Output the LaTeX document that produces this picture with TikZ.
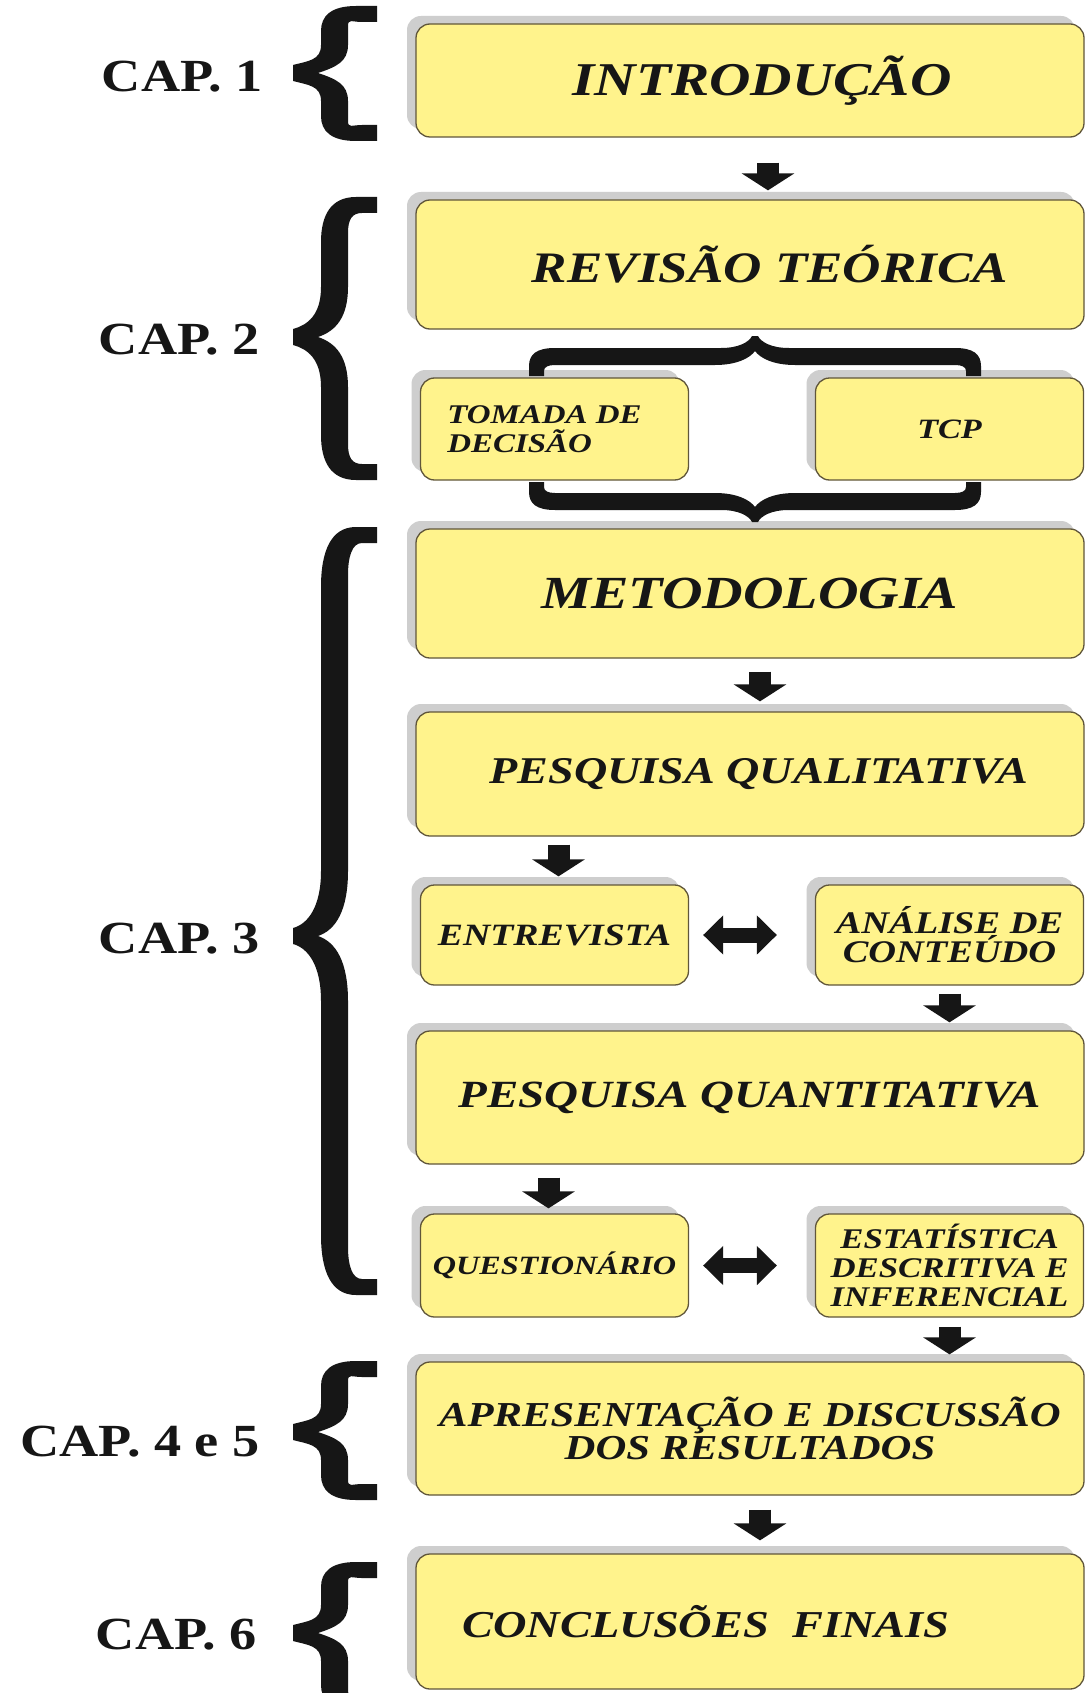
\documentclass[tikz,border=0pt]{standalone}
\usepackage{fontspec}
\setmainfont{Liberation Serif}
\usetikzlibrary{arrows.meta,shadows}

\definecolor{boxfill}{RGB}{255,243,140}
\definecolor{boxline}{RGB}{96,86,58}
\definecolor{shade}{RGB}{206,206,206}
\definecolor{ink}{RGB}{22,22,22}

\newcommand\fsz[2]{\fontsize{#1}{#2}\selectfont}
% widened lettering used throughout
\newcommand\W[1]{\scalebox{1.22}[1]{#1}}

% Tall curly brace opening to the right: top, tip, bottom, hook bend, tip bend
\newcommand\capbrace[5]{%
  \fill[ink] (377,#1) -- (356,#1)
    .. controls (331,#1) and (321,{#1+0.4*#4}) .. (321,{#1+#4})
    -- (321,{#2-#5})
    .. controls (321,{#2-0.45*#5}) and (308,{#2-12}) .. (293,{#2-8})
    -- (293,{#2+8})
    .. controls (308,{#2+12}) and (321,{#2+0.45*#5}) .. (321,{#2+#5})
    -- (321,{#3-#4})
    .. controls (321,{#3-0.4*#4}) and (331,#3) .. (356,#3)
    -- (377,#3) -- (377,{#3-16}) -- (362,{#3-16})
    .. controls (352,{#3-16}) and (348,{#3-0.5*#4}) .. (348,{#3-0.8*#4})
    -- (348,{#2+#5})
    .. controls (348,{#2+0.4*#5}) and (336,{#2+6}) .. (318,#2)
    .. controls (336,{#2-6}) and (348,{#2-0.4*#5}) .. (348,{#2-#5})
    -- (348,{#1+0.8*#4})
    .. controls (348,{#1+0.5*#4}) and (352,{#1+16}) .. (362,{#1+16})
    -- (377,{#1+16}) -- cycle;}

% Horizontal curly brace: tip x, tip y, left end, right end, direction (1: arms below tip)
\newcommand\sidebrace[5]{%
  \fill[ink] (#3,{#2+#5*40}) -- (#3,{#2+#5*30})
    .. controls (#3,{#2+#5*18}) and ({#3+8},{#2+#5*12}) .. ({#3+26},{#2+#5*12})
    -- ({#1-34},{#2+#5*12})
    .. controls ({#1-16},{#2+#5*12}) and ({#1-6},{#2+#5*6}) .. ({#1-3},#2)
    -- ({#1+3},#2)
    .. controls ({#1+6},{#2+#5*6}) and ({#1+16},{#2+#5*12}) .. ({#1+34},{#2+#5*12})
    -- ({#4-26},{#2+#5*12})
    .. controls ({#4-8},{#2+#5*12}) and (#4,{#2+#5*18}) .. (#4,{#2+#5*30})
    -- (#4,{#2+#5*40}) -- ({#4-15},{#2+#5*40}) -- ({#4-15},{#2+#5*35})
    .. controls ({#4-15},{#2+#5*31}) and ({#4-19},{#2+#5*29}) .. ({#4-26},{#2+#5*29})
    -- ({#1+40},{#2+#5*29})
    .. controls ({#1+18},{#2+#5*29}) and ({#1+5},{#2+#5*22}) .. (#1,{#2+#5*15})
    .. controls ({#1-5},{#2+#5*22}) and ({#1-18},{#2+#5*29}) .. ({#1-40},{#2+#5*29})
    -- ({#3+26},{#2+#5*29})
    .. controls ({#3+19},{#2+#5*29}) and ({#3+15},{#2+#5*31}) .. ({#3+15},{#2+#5*35})
    -- ({#3+15},{#2+#5*40}) -- cycle;}

\tikzset{
  box/.style={draw=boxline, line width=1.3pt, fill=boxfill, rounded corners=14pt,
    general shadow={fill=shade, shadow xshift=-9pt, shadow yshift=8pt},
    text=ink, align=center, inner sep=0pt},
  tf/.style 2 args={font=\bfseries\itshape\fsz{#1}{#2}},
  wide/.style={box, minimum width=668pt},
  half/.style={box, minimum width=268pt},
  caplabel/.style={anchor=east, font=\bfseries\fsz{46}{50}, text=ink, inner sep=0pt},
  fat/.style={draw=ink, line width=22pt, -{Triangle[width=52pt,length=17pt]}},
  fatboth/.style={draw=ink, line width=15pt,
    {Triangle[width=38pt,length=20pt]}-{Triangle[width=38pt,length=20pt]}},
}

\begin{document}
\begin{tikzpicture}[x=1pt, y=-1pt]
\clip (0,0) rectangle (1086,1693);
\fill[white] (0,0) rectangle (1086,1693);

% chapter labels
\node[caplabel] (c1) at (263,77) {\scalebox{1.18}[1]{CAP. 1}};
\node[caplabel] (c2) at (260,340) {\scalebox{1.18}[1]{CAP. 2}};
\node[caplabel] (c3) at (260,939) {\scalebox{1.18}[1]{CAP. 3}};
\node[caplabel] (c45) at (260,1442) {\scalebox{1.18}[1]{CAP. 4 e 5}};
\node[caplabel] (c6) at (257,1635) {\scalebox{1.18}[1]{CAP. 6}};

% chapter braces
\capbrace{6}{73}{141}{25}{28}
\capbrace{197}{337}{480}{45}{50}
\capbrace{527}{936}{1295}{60}{65}
\capbrace{1361}{1432}{1500}{25}{28}
\capbrace{1562}{1633}{1710}{25}{28}

% boxes
\node[wide, minimum height=113pt, tf={47}{52}] (intro) at (750,80.5) {\hspace*{24pt}\W{INTRODUÇÃO}};
\node[wide, minimum height=129pt, tf={43.5}{48}] (rev) at (750,264.5) {\hspace*{40pt}\W{REVISÃO TEÓRICA}};
\node[half, minimum height=102pt, tf={27}{29}, align=left] (tom) at (554.5,429) {\W{TOMADA DE}\hspace*{20pt}\\\W{DECISÃO}};
\node[half, minimum height=102pt, tf={28}{30}] (tcp) at (949.5,429) {\W{TCP}};
\node[wide, minimum height=129pt, tf={46}{50}] (met) at (750,593.5) {\W{METODOLOGIA}};
\node[wide, minimum height=124pt, tf={37.8}{42}] (pql) at (750,774) {\hspace*{18pt}\W{PESQUISA QUALITATIVA}};
\node[half, minimum height=100pt, tf={31}{33}] (ent) at (554.5,935) {\W{ENTREVISTA}};
\node[half, minimum height=100pt, tf={31.5}{29}] (ana) at (949.5,935) {\W{ANÁLISE DE}\\\W{CONTEÚDO}};
\node[wide, minimum height=133pt, tf={38.5}{42}] (pqn) at (750,1097.5) {\W{PESQUISA QUANTITATIVA}};
\node[half, minimum height=103pt, tf={26.4}{29}] (que) at (554.5,1265.5) {\W{QUESTIONÁRIO}};
\node[half, minimum height=103pt, tf={28.5}{29}] (est) at (949.5,1265.5) {\W{ESTATÍSTICA}\\\W{DESCRITIVA E}\\\W{INFERENCIAL}};
\node[wide, minimum height=133pt, tf={35}{32.5}] (apr) at (750,1428.5) {\W{APRESENTAÇÃO E DISCUSSÃO}\\\W{DOS RESULTADOS}};
\node[wide, minimum height=135pt, tf={38}{42}] (con) at (750,1621.5) {\W{CONCLUSÕES\ \ FINAIS}\hspace*{88pt}};

% braces grouping the two review topics
\sidebrace{755}{336}{529}{981}{1}
\sidebrace{755}{522}{529}{981}{(-1)}

% flow arrows
\draw[fat] ([xshift=18pt,yshift=-25pt]intro.south) -- ([xshift=18pt,yshift=9pt]rev.north);
\draw[fat] ([xshift=10pt,yshift=-13pt]met.south) -- ([xshift=10pt,yshift=10pt]pql.north);
\draw[fat] ([xshift=4pt,yshift=-8pt]pql.south -| ent.north) -- ([xshift=4pt,yshift=8pt]ent.north);
\draw[fat] ([yshift=-8pt]ana.south) -- ([yshift=8pt]pqn.north -| ana.south);
\draw[fat] ([xshift=-6pt,yshift=-13pt]pqn.south -| que.north) -- ([xshift=-6pt,yshift=5pt]que.north);
\draw[fat] ([yshift=-9pt]est.south) -- ([yshift=7pt]apr.north -| est.south);
\draw[fat] ([xshift=10pt,yshift=-14pt]apr.south) -- ([xshift=10pt,yshift=13pt]con.north);
\draw[fatboth] ([xshift=14pt]ent.east) -- ([xshift=-38pt]ana.west);
\draw[fatboth] ([xshift=14pt]que.east) -- ([xshift=-38pt]est.west);
\end{tikzpicture}
\end{document}
